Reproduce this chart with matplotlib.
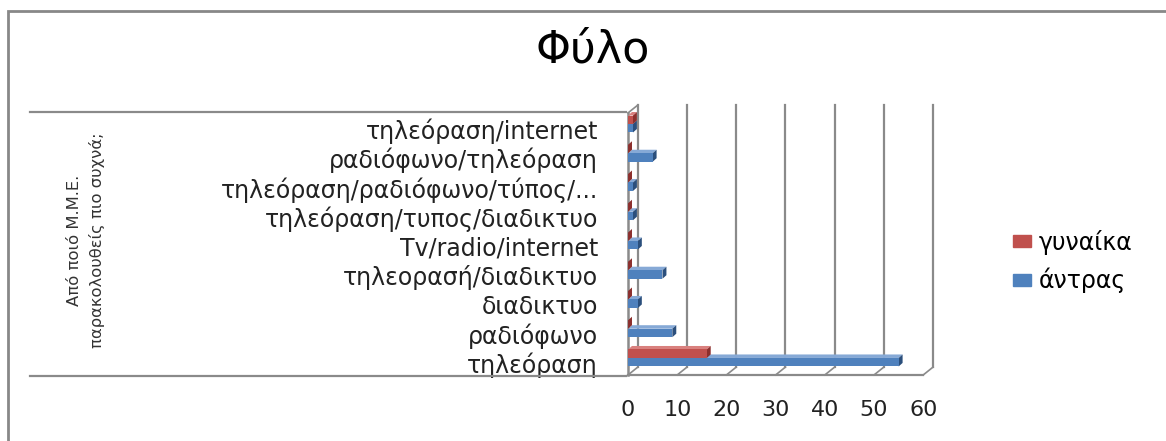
import matplotlib
matplotlib.use("Agg")
import matplotlib.pyplot as plt
from matplotlib.patches import Patch, Polygon, Rectangle
from matplotlib.lines import Line2D
import numpy as np

categories = ["τηλεόραση", "ραδιόφωνο", "διαδικτυο", "τηλεορασή/διαδικτυο",
              "Tv/radio/internet", "τηλεόραση/τυπος/διαδικτυο",
              "τηλεόραση/ραδιόφωνο/τύπος/...", "ραδιόφωνο/τηλεόραση",
              "τηλεόραση/internet"]
men = [55, 9, 2, 7, 2, 1, 1, 5, 1]
women = [16, 0, 0, 0, 0, 0, 0, 0, 1]
xticks = [0, 10, 20, 30, 40, 50, 60]

RED, RED_DARK, RED_TOP = "#C0504D", "#8C2F2D", "#D9807E"
BLUE, BLUE_DARK, BLUE_TOP = "#4F81BD", "#2B4F7C", "#86A9D6"
GRID = "#8a8a8a"
TXT = "#222222"

W, H = 1166, 441
fig = plt.figure(figsize=(W / 100, H / 100), dpi=100)
ax = fig.add_axes([0.5302, 0.1286, 0.2785, 0.6499])
ax.set_xlim(-2, 64)
ax.set_ylim(-0.9, 8.9)
for s in ax.spines.values():
    s.set_visible(False)

# depth of the chart walls and of each bar (data units)
dx, dy = 2.0, 0.27
bdx, bdy = 0.8, 0.12
floor_y = -0.58
top_y = 8.38

# back wall gridlines and floor
for v in xticks:
    ax.plot([v + dx, v + dx], [floor_y + dy, top_y + dy], color=GRID, lw=1.6, zorder=1)
    ax.plot([v, v + dx], [floor_y, floor_y + dy], color=GRID, lw=1.2, zorder=1)
ax.plot([0, xticks[-1]], [floor_y, floor_y], color=GRID, lw=1.6, zorder=1)
ax.plot([0, 0], [floor_y, top_y], color=GRID, lw=1.8, zorder=1)
ax.plot([0, dx], [top_y, top_y + dy], color=GRID, lw=1.2, zorder=1)

y = np.arange(len(categories))
h = 0.29


def bar3d(yc, v, side, top, z):
    y0, y1 = yc - h / 2, yc + h / 2
    ax.add_patch(Polygon([(0, y1), (v, y1), (v + bdx, y1 + bdy), (bdx, y1 + bdy)],
                         closed=True, fc=top, ec="none", zorder=z))
    ax.add_patch(Polygon([(v, y0), (v, y1), (v + bdx, y1 + bdy), (v + bdx, y0 + bdy)],
                         closed=True, fc=side, ec="none", zorder=z))


for i in range(len(categories)):
    bar3d(y[i] - h / 2, men[i], BLUE_DARK, BLUE_TOP, 3)
    ax.barh(y[i] - h / 2, men[i], height=h, color=BLUE, zorder=3)
    bar3d(y[i] + h / 2, women[i], RED_DARK, RED_TOP, 4)
    ax.barh(y[i] + h / 2, women[i], height=h, color=RED, zorder=4)

ax.set_xticks(xticks)
ax.set_xticklabels([str(t) for t in xticks], fontsize=16, color=TXT)
ax.tick_params(axis="x", length=0, pad=11)
ax.set_yticks(y - 0.17)
ax.set_yticklabels(categories, fontsize=17, color=TXT)
ax.tick_params(axis="y", length=0, pad=14.5)

# category axis lines
for py in (112, 376):
    fig.add_artist(Line2D([30 / W, 626 / W], [1 - py / H, 1 - py / H],
                          color=GRID, lw=1.6))

# outer chart border
fig.add_artist(Rectangle((8 / W, -0.1), 1.2, 1.1 - 11 / H, transform=fig.transFigure,
                         fill=False, ec="#888888", lw=2))

fig.text(593 / W, 1 - 50 / H, "Φύλο", ha="center", va="center", fontsize=32)
fig.text(86 / W, 1 - 240 / H, "Από ποιό Μ.Μ.Ε.\nπαρακολουθείς πιο συχνά;",
         rotation=90, ha="center", va="center", multialignment="center",
         fontsize=11.8, linespacing=1.5, color="#333333")

handles = [Patch(color=RED, label="γυναίκα"), Patch(color=BLUE, label="άντρας")]
fig.legend(handles=handles, loc="center left", bbox_to_anchor=(1013 / W, 1 - 261.5 / H),
           frameon=False, fontsize=17, handlelength=0.75, handleheight=0.42,
           handletextpad=0.35, labelspacing=0.55, borderpad=0, borderaxespad=0)

fig.savefig("out.png", dpi=100)
